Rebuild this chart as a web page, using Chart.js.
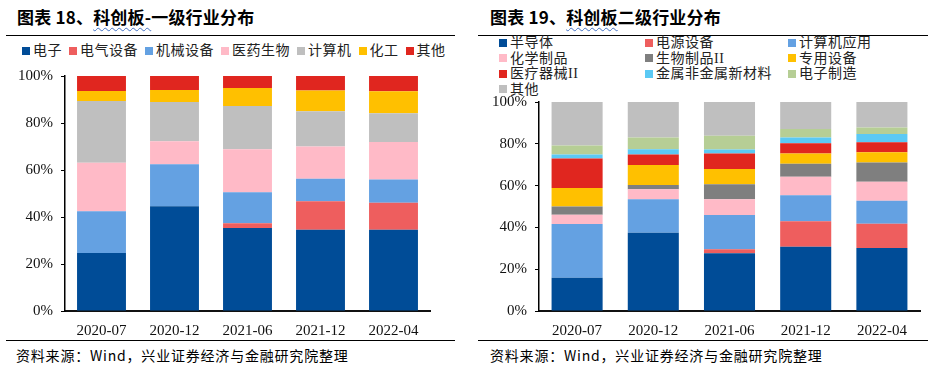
<!DOCTYPE html>
<html>
<head>
<meta charset="utf-8">
<script src="https://cdn.jsdelivr.net/npm/chart.js@4/dist/chart.umd.min.js"></script>
<style>
  html, body { margin: 0; padding: 0; background: #fff; }
  #wrap { position: relative; width: 938px; height: 368px; overflow: hidden; background: #fff; }
  .title { position: absolute; top: 5px; font-family: "Noto Sans CJK SC", sans-serif; font-weight: bold; font-size: 17px; letter-spacing: 0.2px; color: #000; white-space: nowrap; line-height: 24px; }
  .wavy { text-decoration: underline wavy #4472C4; text-decoration-thickness: 1px; text-underline-offset: 3px; }
  .hr { position: absolute; height: 1px; background: #000; }
  .src { position: absolute; top: 345px; font-family: "Noto Sans CJK SC", sans-serif; font-size: 14px; letter-spacing: 0.8px; color: #000; white-space: nowrap; line-height: 20px; }
  canvas { position: absolute; }
  .legend { position: absolute; font-family: "Liberation Serif", "Noto Sans CJK SC", serif; font-size: 14px; letter-spacing: 0.5px; color: #222; white-space: nowrap; }
  .legend .item { display: flex; align-items: center; }
  .legend .box { width: 8px; height: 8px; margin-right: 3px; flex: none; }
  #leg1 { top: 41px; left: 22px; display: flex; gap: 7px; line-height: 20px; }
  #leg2 { top: 35px; left: 499px; display: grid; grid-template-columns: 146px 143px 140px; grid-auto-rows: 15.5px; line-height: 15.5px; }
</style>
</head>
<body>
<div id="wrap">
  <div class="title" style="left:17px;">图表 18、<span class="wavy">科创板-</span>一级行业分布</div>
  <div class="title" style="left:490px;">图表 19、<span class="wavy">科创板</span>二级行业分布</div>
  <div class="hr" style="left:6px; width:449px; top:35px;"></div>
  <div class="hr" style="left:478px; width:450px; top:35px;"></div>
  <div class="legend" id="leg1"></div>
  <div class="legend" id="leg2"></div>
  <canvas id="c1" width="460" height="345" style="left:0; top:0;"></canvas>
  <canvas id="c2" width="468" height="345" style="left:470px; top:0;"></canvas>
  <div class="hr" style="left:6px; width:449px; top:340px;"></div>
  <div class="hr" style="left:478px; width:450px; top:340px;"></div>
  <div class="src" style="left:16px;">资料来源：Wind，兴业证券经济与金融研究院整理</div>
  <div class="src" style="left:490px;">资料来源：Wind，兴业证券经济与金融研究院整理</div>
</div>
<script>
// ---------- data ----------
const categories = ['2020-07', '2020-12', '2021-06', '2021-12', '2022-04'];
const yTicks = [0, 20, 40, 60, 80, 100];

// Left chart: 一级行业 (%)
const l1Labels = ['电子', '电气设备', '机械设备', '医药生物', '计算机', '化工', '其他'];
const dianzi     = [24.7, 44.6, 35.3, 34.6, 34.6];
const dianqi     = [0.0, 0.0, 2.0, 12.1, 11.5];
const jixie      = [17.7, 17.8, 13.2, 9.6, 9.9];
const yiyao      = [20.7, 9.8, 18.3, 13.7, 15.9];
const jisuanji   = [26.3, 16.7, 18.4, 15.0, 12.2];
const huagong    = [4.2, 5.1, 7.7, 8.8, 9.4];
const qita1      = [6.4, 6.0, 5.1, 6.2, 6.5];

// Right chart: 二级行业 (%)
const l2Labels = ['半导体', '电源设备', '计算机应用', '化学制品', '生物制品II', '专用设备', '医疗器械II', '金属非金属新材料', '电子制造', '其他'];
const bandaoti   = [15.9, 37.4, 27.6, 30.7, 30.2];
const dianyuan   = [0.0, 0.0, 1.9, 12.2, 11.5];
const jsjyy      = [25.7, 16.1, 16.4, 12.5, 11.0];
const huaxue     = [4.4, 4.8, 7.6, 8.8, 9.1];
const shengwu    = [4.0, 2.0, 7.2, 6.2, 9.2];
const zhuanyong  = [8.9, 9.5, 7.3, 4.9, 5.0];
const yiliao     = [14.1, 5.1, 7.3, 5.0, 4.7];
const jinshu     = [1.9, 2.5, 2.0, 2.7, 4.0];
const dzzz       = [4.3, 5.6, 6.5, 4.1, 3.1];
const qita2      = [20.8, 17.0, 16.2, 12.9, 12.2];

// ---------- styles ----------
const C = {
  navy: '#004C97', coral: '#EE5E5E', sky: '#64A1E2', pink: '#FFBAC7',
  gray: '#BFBFBF', gold: '#FFC000', red: '#E0261F', dgray: '#7F7F7F',
  cyan: '#5BC9F4', green: '#B6CE95'
};
const l1Colors = [C.navy, C.coral, C.sky, C.pink, C.gray, C.gold, C.red];
const l2Colors = [C.navy, C.coral, C.sky, C.pink, C.dgray, C.gold, C.red, C.cyan, C.green, C.gray];

function buildLegend(el, labels, colors) {
  labels.forEach((t, i) => {
    const it = document.createElement('div'); it.className = 'item';
    const b = document.createElement('span'); b.className = 'box'; b.style.background = colors[i];
    const s = document.createElement('span'); s.textContent = t;
    it.appendChild(b); it.appendChild(s); el.appendChild(it);
  });
}
buildLegend(document.getElementById('leg1'), l1Labels, l1Colors);
buildLegend(document.getElementById('leg2'), l2Labels, l2Colors);

function makeChart(id, labels, series, colors, pad, yW, xH) {
  const datasets = series.map((d, i) => ({
    label: labels[i], data: d, backgroundColor: colors[i], borderWidth: 0,
    categoryPercentage: 1.0, barPercentage: 0.67
  }));
  return new Chart(document.getElementById(id), {
    type: 'bar',
    data: { labels: categories, datasets },
    options: {
      responsive: false, animation: false, devicePixelRatio: 1,
      layout: { padding: pad },
      plugins: { legend: { display: false }, tooltip: { enabled: false } },
      scales: {
        x: {
          stacked: true,
          grid: { display: false, drawTicks: false },
          border: { display: true, color: '#111', width: 2 },
          ticks: { color: '#111', padding: 11, font: { family: '"Liberation Serif", serif', size: 15 } },
          afterFit: s => { s.height = xH; }
        },
        y: {
          stacked: true, min: 0, max: 100,
          afterBuildTicks: s => { s.ticks = yTicks.map(v => ({ value: v })); },
          grid: { display: true, drawOnChartArea: false, drawTicks: true, tickLength: 4, color: '#000', lineWidth: 1 },
          border: { display: true, color: '#000', width: 1.5 },
          ticks: { color: '#111', padding: 8, font: { family: '"Liberation Serif", serif', size: 15 }, callback: v => v + '%' },
          afterFit: s => { s.width = yW; }
        }
      }
    }
  });
}

makeChart('c1', l1Labels, [dianzi, dianqi, jixie, yiyao, jisuanji, huagong, qita1], l1Colors,
  { left: 0, right: 30, top: 76, bottom: 0 }, 65, 34);
makeChart('c2', l2Labels, [bandaoti, dianyuan, jsjyy, huaxue, shengwu, zhuanyong, yiliao, jinshu, dzzz, qita2], l2Colors,
  { left: 0, right: 18, top: 102, bottom: 0 }, 69, 34);
</script>
</body>
</html>
